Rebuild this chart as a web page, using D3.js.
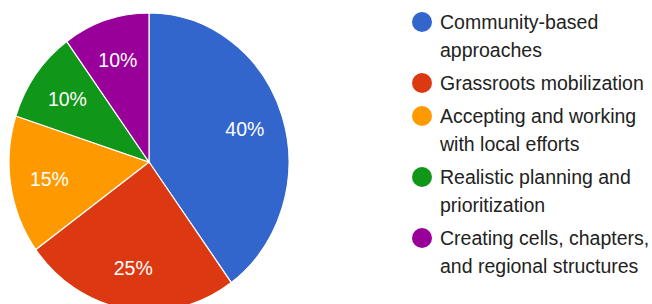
<!DOCTYPE html>
<html>
<head>
<meta charset="utf-8">
<script src="https://cdnjs.cloudflare.com/ajax/libs/d3/7.8.5/d3.min.js"></script>
<style>
	body { margin: 0; background: #fff; }
	text { font-family: Arial, "Liberation Sans", sans-serif; }
</style>
</head>
<body>
<div id="chart"></div>
<script>

// data
const categories = [
	"Community-based approaches",
	"Grassroots mobilization",
	"Accepting and working with local efforts",
	"Realistic planning and prioritization",
	"Creating cells, chapters, and regional structures"
];
const values = [40, 25, 15, 10, 10];
const colors = ["#3366cc", "#dc3912", "#ff9900", "#109618", "#990099"];

function drawChart(){

	//sizing
	const width = 652;
	const height = 304;

	// pie looks a little taller than wide in the picture
	const cx = 149, cy = 162;
	const r = 140;
	const yStretch = 149 / 140;

	let svg = d3.select("#chart")
		.append("svg")
		.attr("width", width)
		.attr("height", height);

	let data = categories.map((c, i) => ({name: c, value: values[i], color: colors[i]}));

	let pie = d3.pie()
		.sort(null)
		.value(d => d.value);

	let arc = d3.arc()
		.innerRadius(0)
		.outerRadius(r);

	let labelArc = d3.arc()
		.innerRadius(r * 0.72)
		.outerRadius(r * 0.72);

	let arcs = pie(data);

	let g = svg.append("g")
		.attr("transform", "translate(" + cx + "," + cy + ") scale(1," + yStretch + ")");

	g.selectAll("path")
		.data(arcs)
		.enter().append("path")
		.attr("d", arc)
		.attr("fill", d => d.data.color)
		.attr("stroke", "#fff")
		.attr("stroke-width", 1.2)
		.attr("vector-effect", "non-scaling-stroke");

	//percent labels, placed outside the stretched group so the text keeps its shape
	svg.append("g")
		.selectAll("text")
		.data(arcs)
		.enter().append("text")
		.attr("x", d => cx + labelArc.centroid(d)[0])
		.attr("y", d => cy + labelArc.centroid(d)[1] * yStretch)
		.attr("dy", "0.35em")
		.attr("text-anchor", "middle")
		.attr("fill", "#fff")
		.style("font-size", "19.5px")
		.text(d => d.data.value + "%");

	//legend
	const legendX = 422;
	const textX = 440;
	const lineH = 28;
	const gap = 5;
	const maxW = 222;

	let legend = svg.append("g");
	let y = 22;

	data.forEach(d => {
		legend.append("circle")
			.attr("cx", legendX)
			.attr("cy", y)
			.attr("r", 10)
			.attr("fill", d.color);

		let t = legend.append("text")
			.attr("x", textX)
			.attr("y", y + 7)
			.attr("fill", "#222")
			.style("font-size", "19.5px");

		// simple word wrap
		let words = d.name.split(" ");
		let line = [];
		let n = 0;
		let tspan = t.append("tspan").attr("x", textX).attr("dy", 0);
		words.forEach(w => {
			line.push(w);
			tspan.text(line.join(" "));
			if (tspan.node().getComputedTextLength() > maxW && line.length > 1) {
				line.pop();
				tspan.text(line.join(" "));
				line = [w];
				n++;
				tspan = t.append("tspan").attr("x", textX).attr("dy", lineH).text(w);
			}
		});

		y += (n + 1) * lineH + gap;
	});
}

drawChart();
</script>
</body>
</html>
